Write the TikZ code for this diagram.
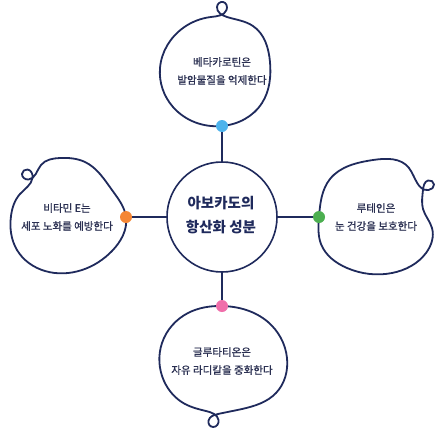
\documentclass[tikz,border=0pt]{standalone}
\usepackage{fontspec}
\usetikzlibrary{hobby}
\newfontfamily\kr{Noto Sans CJK KR}
\newfontfamily\krm[FakeBold=0.9]{Noto Sans CJK KR}
\definecolor{navy}{HTML}{1F2A5C}
\definecolor{txt}{HTML}{2B3052}
\definecolor{dblue}{HTML}{4DB3EC}
\definecolor{dorange}{HTML}{F58634}
\definecolor{dgreen}{HTML}{4CAF50}
\definecolor{dpink}{HTML}{F06EAA}
\tikzset{
  blob/.style={draw=navy, line width=1.8pt, line join=round, use Hobby shortcut, closed=true},
  link/.style={draw=navy, line width=1.6pt},
  dotnode/.style={circle, fill=#1, minimum size=12pt, inner sep=0pt},
  label/.style={font=\krm\fontsize{10.5}{18}\selectfont, text=txt, align=center, inner sep=0pt},
  hub/.style={circle, draw=navy, line width=1.6pt, minimum size=110pt, inner sep=0pt, fill=white},
  hubtext/.style={font=\kr\bfseries\fontsize{14.5}{24}\selectfont, text=navy, align=center, inner sep=0pt}
}
\begin{document}
\begin{tikzpicture}[x=1pt,y=-1pt]
\useasboundingbox[fill=white] (0,0) rectangle (444,434);
% blobs
\draw[blob] (222,126) .. (173,107) .. (160,68) .. (183,28) .. (211,17) .. (226.5,10) .. (223,2) .. (217,7) .. (227,17) .. (253,26) .. (270,62) .. (262,103);
\draw[blob] (126,217) .. (112,190) .. (85,162) .. (60,158) .. (41,165) .. (28.5,179.5) .. (22,174) .. (27.5,169.5) .. (32.5,178) .. (20,194) .. (11,216) .. (17,250) .. (45,271) .. (82,270) .. (112,251);
\draw[blob] (319,217) .. (330,179) .. (373,160) .. (409,168) .. (428.5,190) .. (434,184.5) .. (428,180.5) .. (423,190) .. (423,209) .. (432,228) .. (426,253) .. (392,273) .. (347,268) .. (321,244);
\draw[blob] (222,306) .. (268,322) .. (287,358) .. (276,393) .. (242,409) .. (218,414) .. (208.5,420.5) .. (213,427) .. (218.5,420) .. (206,411) .. (185,404) .. (164,381) .. (162,343) .. (188,313);
% hub
\node[hub] (c) at (222,217) {};
\node[hubtext] (ct) at (221,215) {아보카도의\\항산화 성분};
% dot positions
\coordinate (dt) at (222,126);
\coordinate (dl) at (126,217);
\coordinate (dr) at (319,217);
\coordinate (db) at (222,306);
\draw[link] (c) -- (dt);
\draw[link] (c) -- (dl);
\draw[link] (c) -- (dr);
\draw[link] (c) -- (db);
\node[dotnode=dblue] (ndt) at (dt) {};
\node[dotnode=dorange] (ndl) at (dl) {};
\node[dotnode=dgreen] (ndr) at (dr) {};
\node[dotnode=dpink] (ndb) at (db) {};
% labels
\node[label] (tt) at (222,71) {베타카로틴은\\발암물질을 억제한다};
\node[label] (tl) at (67,217) {비타민 E는\\세포 노화를 예방한다};
\node[label] (tr) at (376,217) {루테인은\\눈 건강을 보호한다};
\node[label] (tb) at (222,361) {글루타티온은\\자유 라디칼을 중화한다};
\end{tikzpicture}
\end{document}
